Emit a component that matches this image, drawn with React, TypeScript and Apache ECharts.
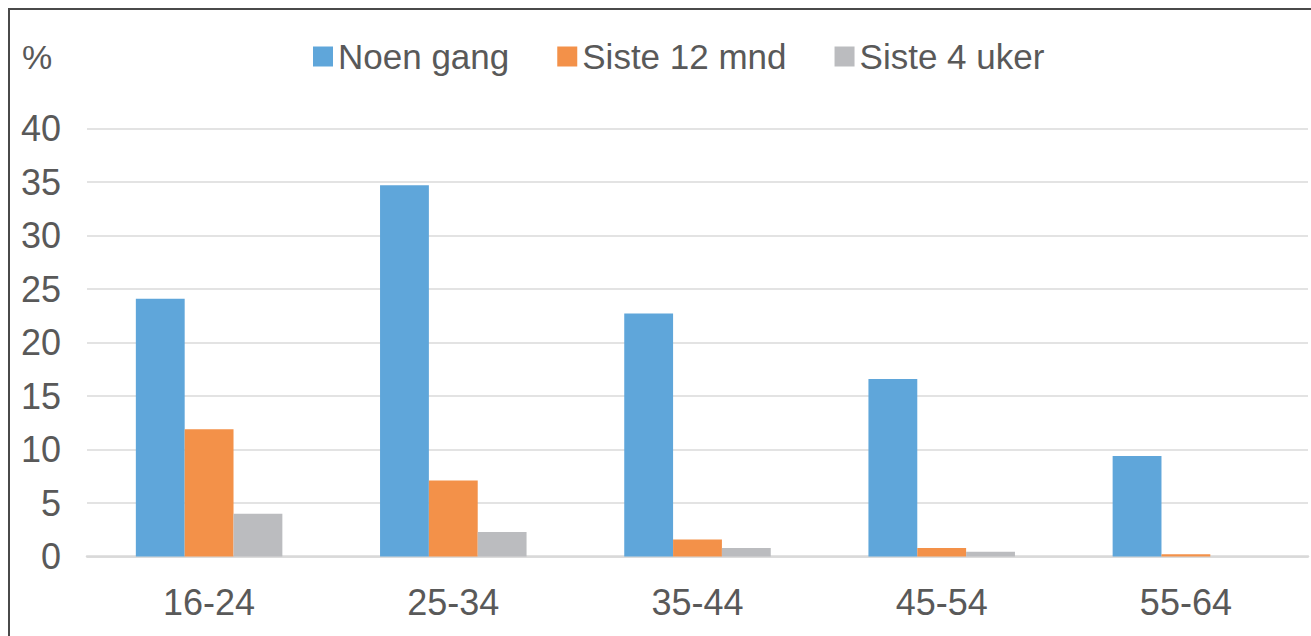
import React, { useEffect, useRef } from "react";
import * as echarts from "echarts";

const categories = ["16-24", "25-34", "35-44", "45-54", "55-64"];
const seriesNames = ["Noen gang", "Siste 12 mnd", "Siste 4 uker"];
const noenGang = [24.1, 34.7, 22.7, 16.6, 9.4];
const siste12mnd = [11.9, 7.1, 1.6, 0.8, 0.2];
const siste4uker = [4.0, 2.3, 0.8, 0.45, 0];
const colors = ["#5FA6DA", "#F39149", "#BBBCBF"];
const yTicks = { min: 0, max: 40, interval: 5 };

const FONT = "'Liberation Sans', Arial, sans-serif";
const TEXT = "#595959";

export default function App() {
  const ref = useRef<HTMLDivElement>(null);
  useEffect(() => {
    if (!ref.current) return;
    const chart = echarts.init(ref.current, undefined, { renderer: "svg" });
    const values = [noenGang, siste12mnd, siste4uker];
    chart.setOption({
      animation: false,
      backgroundColor: "#ffffff",
      textStyle: { fontFamily: FONT },
      grid: { left: 87, right: 3, top: 128.5, bottom: 79.5, containLabel: false },
      legend: {
        left: 308,
        top: 34,
        itemWidth: 20,
        itemHeight: 20,
        itemGap: 48,
        icon: "rect",
        data: seriesNames,
        textStyle: { fontSize: 35, color: TEXT, fontFamily: FONT, lineHeight: 34 },
      },
      graphic: [
        {
          type: "rect",
          shape: { x: 9, y: 9, width: 1500, height: 800 },
          style: { fill: "none", stroke: "#4a4a4a", lineWidth: 2 },
          silent: true,
        },
        {
          type: "text",
          left: 22,
          top: 40,
          style: { text: "%", fontSize: 34, fill: TEXT, fontFamily: FONT },
        },
      ],
      xAxis: {
        type: "category",
        data: categories,
        axisTick: { show: false },
        axisLine: { show: true, lineStyle: { color: "#D9D9D9", width: 2.5 } },
        axisLabel: { fontSize: 36, color: TEXT, margin: 28, fontFamily: FONT },
      },
      yAxis: {
        type: "value",
        min: yTicks.min,
        max: yTicks.max,
        interval: yTicks.interval,
        axisLine: { show: false },
        axisTick: { show: false },
        axisLabel: { fontSize: 36, color: TEXT, margin: 26, fontFamily: FONT },
        splitLine: { lineStyle: { color: "#E3E3E3", width: 2 } },
      },
      series: seriesNames.map((name, i) => ({
        name,
        type: "bar",
        data: values[i],
        barGap: "0%",
        barCategoryGap: "40%",
        itemStyle: { color: colors[i] },
      })),
    });
    return () => chart.dispose();
  }, []);
  return (
    <div
      ref={ref}
      style={{ position: "fixed", left: 0, top: 0, width: 1311, height: 636 }}
    />
  );
}
